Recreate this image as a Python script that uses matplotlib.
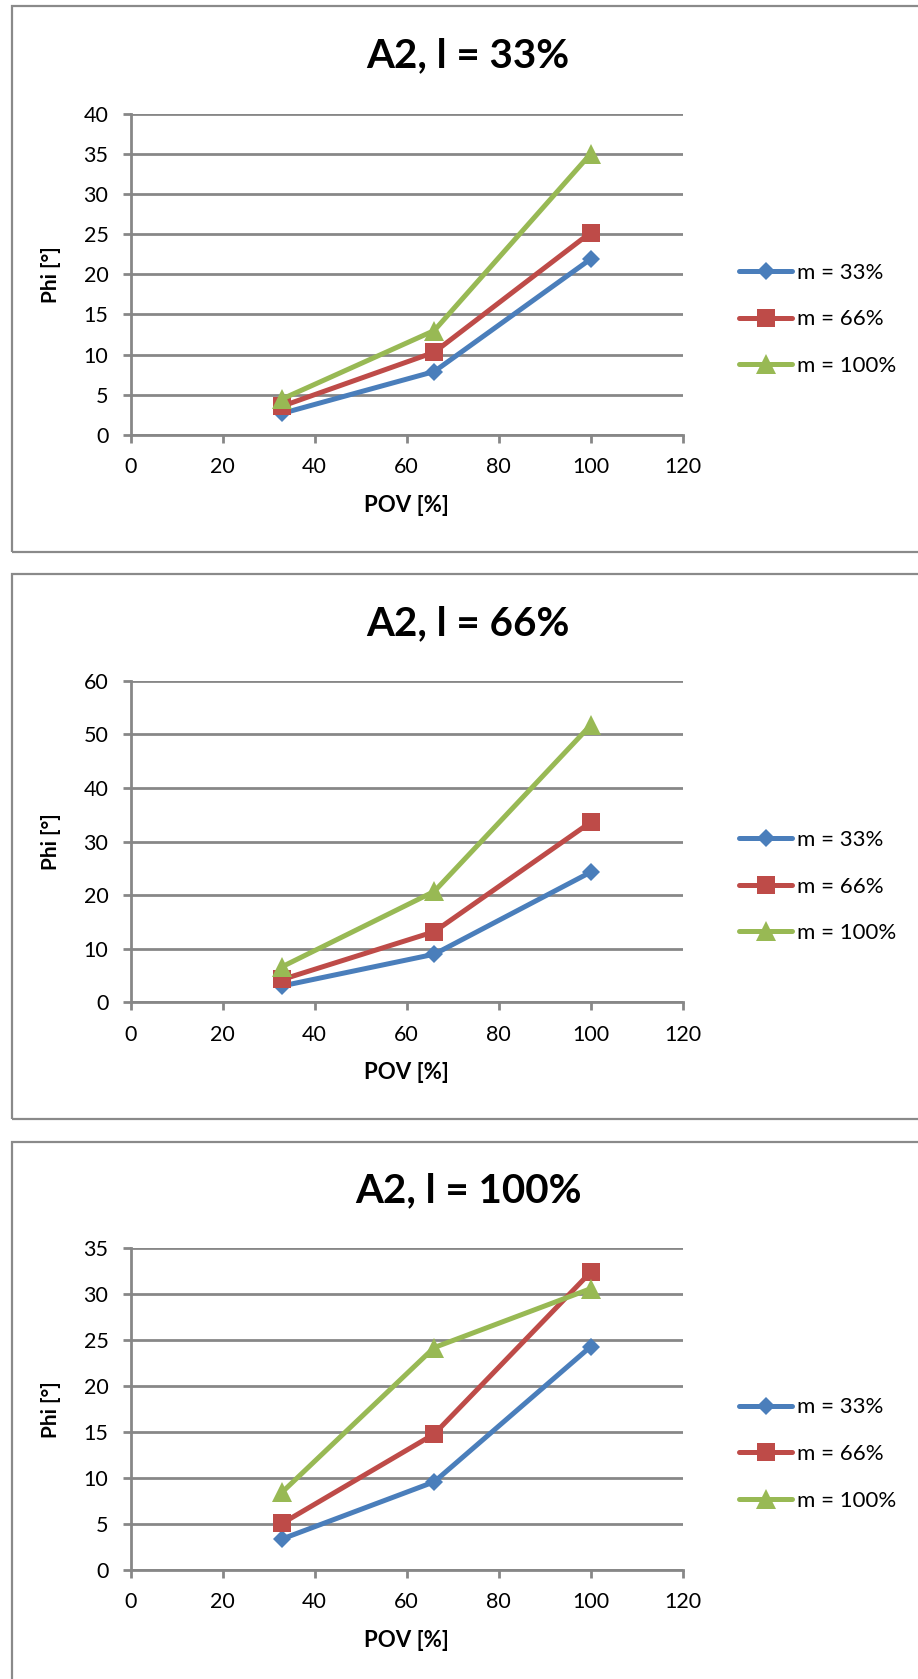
import matplotlib
matplotlib.use("Agg")
import matplotlib.pyplot as plt
from matplotlib.patches import Rectangle

plt.rcParams['font.family'] = ['Lato', 'DejaVu Sans']

# POV values on the x axis
pov = [33, 66, 100]
series_labels = ['m = 33%', 'm = 66%', 'm = 100%']

# Phi [°] per load case l, one list per m
phi_l33 = [[2.7, 7.9, 21.9], [3.6, 10.3, 25.2], [4.5, 13.0, 35.0]]
phi_l66 = [[3.1, 9.0, 24.3], [4.3, 13.2, 33.6], [6.7, 20.7, 51.7]]
phi_l100 = [[3.4, 9.6, 24.3], [5.1, 14.8, 32.4], [8.5, 24.2, 30.6]]

titles = ['A2, l = 33%', 'A2, l = 66%', 'A2, l = 100%']
y_max = [40, 60, 35]
y_step = [5, 10, 5]
x_ticks = [0, 20, 40, 60, 80, 100, 120]

colors = ['#4A7EBB', '#BE4B48', '#98B954']
markers = ['D', 's', '^']
msizes = [9.5, 13, 14]
grid_col = '#878787'

W, H = 918, 1679
fig = plt.figure(figsize=(W / 100, H / 100), dpi=100)
fig.patch.set_facecolor('white')

# pixel layout of the three chart boxes
box_top = [6, 574, 1142]
box_bot = [552, 1119, 1700]
ax_top = [113.6, 680.6, 1248.2]
ax_bot = [435.0, 1002.5, 1570.1]
title_y = [56, 624, 1191]
ax_left, ax_right = 130.6, 682.7

datasets = [phi_l33, phi_l66, phi_l100]

for i in range(3):
    # chart frame
    fig.patches.append(Rectangle((11.7 / W, 1 - box_bot[i] / H), 1.0, (box_bot[i] - box_top[i]) / H,
                                 transform=fig.transFigure, fill=False,
                                 edgecolor='#8A8A8A', lw=1.6, zorder=0))

    ax = fig.add_axes([ax_left / W, 1 - ax_bot[i] / H,
                       (ax_right - ax_left) / W, (ax_bot[i] - ax_top[i]) / H])
    ax.set_facecolor('none')

    lines = []
    for k in range(3):
        ln, = ax.plot(pov, datasets[i][k], color=colors[k], lw=3.6,
                      marker=markers[k], markersize=msizes[k],
                      markeredgewidth=0, label=series_labels[k],
                      solid_capstyle='round', clip_on=False, zorder=3 + k)
        lines.append(ln)

    ax.set_xlim(0, 120)
    ax.set_ylim(0, y_max[i])
    ax.set_xticks(x_ticks)
    ax.set_yticks(list(range(0, y_max[i] + 1, y_step[i])))
    ax.grid(axis='y', color=grid_col, lw=2)
    ax.set_axisbelow(True)
    for s in ['top', 'right']:
        ax.spines[s].set_visible(False)
    for s in ['left', 'bottom']:
        ax.spines[s].set_color(grid_col)
        ax.spines[s].set_linewidth(2)
    ax.tick_params(axis='both', direction='out', length=6, width=2,
                   color=grid_col, labelsize=15.5, pad=10)

    ax.set_xlabel('POV [%]', fontsize=16, fontweight='bold')
    ax.set_ylabel('Phi [°]', fontsize=15, fontweight='bold')
    h = ax_bot[i] - ax_top[i]
    ax.xaxis.set_label_coords(0.5, -70 / h)
    ax.xaxis.label.set_va('center')
    ax.yaxis.set_label_coords(-80 / (ax_right - ax_left), 0.5)
    ax.yaxis.label.set_va('center')

    fig.text(468 / W, 1 - title_y[i] / H, titles[i], fontsize=29,
             fontweight='bold', ha='center', va='center')

    ax.legend(handles=lines, loc='center left',
              bbox_to_anchor=(739 / W, 1 - (ax_top[i] + h / 2 + 45) / H),
              bbox_transform=fig.transFigure, frameon=False, fontsize=16,
              handlelength=2.4, handletextpad=0.2, labelspacing=1.2,
              borderpad=0, borderaxespad=0, numpoints=1)

fig.savefig('out.png', dpi=100, facecolor='white')
